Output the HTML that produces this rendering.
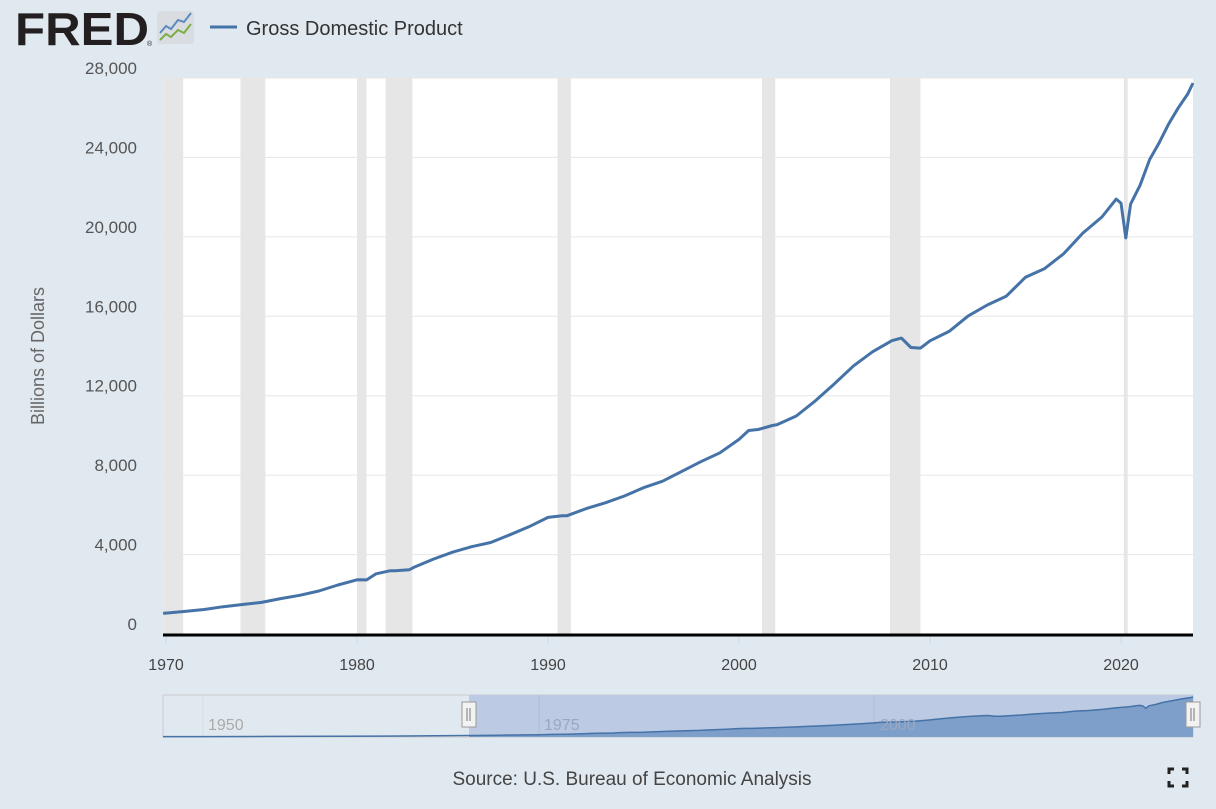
<!DOCTYPE html>
<html><head><meta charset="utf-8"><style>
html,body{margin:0;padding:0;background:#e1e9f0;}
body{width:1216px;height:809px;overflow:hidden;position:relative;font-family:"Liberation Sans",sans-serif;}
</style></head><body>
<svg id="s" width="1216" height="809" xmlns="http://www.w3.org/2000/svg" style="position:absolute;left:0;top:0">
<rect x="0" y="0" width="1216" height="809" fill="#e1e9f0"/>
<text x="15" y="45" font-size="46" font-weight="bold" fill="#231f20" font-family="Liberation Sans" textLength="134" lengthAdjust="spacingAndGlyphs">FRED</text>
<text x="147" y="46" font-size="7" fill="#231f20">®</text>
<rect x="157" y="11" width="37" height="33" rx="3" fill="#d9dde2"/>
<polyline points="160,33 166,26 171,29 178,20 184,22 191,13" fill="none" stroke="#5b8ac0" stroke-width="2"/>
<polyline points="160,40 166,34 171,37 178,30 184,33 191,24" fill="none" stroke="#7cae43" stroke-width="2"/>
<line x1="210" y1="27" x2="237" y2="27" stroke="#4572a7" stroke-width="3"/>
<text x="246" y="35" font-size="20" fill="#333">Gross Domestic Product</text>
<rect x="163" y="78" width="1030" height="556" fill="#fff"/>
<g id="rec" fill="#e6e6e6"></g>
<g id="grid" stroke="#e6e6e6" stroke-width="1"></g>
<g id="ylab" font-size="17" fill="#555" text-anchor="end"></g>
<text transform="translate(44,356) rotate(-90)" font-size="18" fill="#666" text-anchor="middle">Billions of Dollars</text>
<line x1="163" y1="635" x2="1193" y2="635" stroke="#000" stroke-width="3"/>
<g id="xlab" font-size="16" fill="#444" text-anchor="middle"></g>
<path id="main" fill="none" stroke="#4572a7" stroke-width="3" stroke-linejoin="round"/>
<rect x="163" y="695" width="1030" height="42" fill="none" stroke="#ccc" stroke-width="1"/>
<rect x="469" y="695" width="724" height="42" fill="#bccbe3"/>
<line x1="203" y1="695" x2="203" y2="737" stroke="#d6dce4"/>
<line x1="539" y1="695" x2="539" y2="737" stroke="#aebbd4"/>
<line x1="874" y1="695" x2="874" y2="737" stroke="#aebbd4"/>
<path id="navfill" fill="#7f9fcb"/>
<path id="navline" fill="none" stroke="#4572a7" stroke-width="1.5"/>
<text x="208" y="730" font-size="16" fill="#aaa">1950</text>
<text x="544" y="730" font-size="16" fill="#9aa8bf">1975</text>
<text x="880" y="730" font-size="16" fill="#9aa8bf">2000</text>
<rect x="462" y="702" width="14" height="25" fill="#f2f2f2" stroke="#999"/>
<line x1="467" y1="708" x2="467" y2="721" stroke="#777"/><line x1="470" y1="708" x2="470" y2="721" stroke="#777"/>
<rect x="1186" y="702" width="14" height="25" fill="#f2f2f2" stroke="#999"/>
<line x1="1191" y1="708" x2="1191" y2="721" stroke="#777"/><line x1="1194" y1="708" x2="1194" y2="721" stroke="#777"/>
<text x="632" y="785" font-size="19" fill="#444" text-anchor="middle">Source: U.S. Bureau of Economic Analysis</text>
<g stroke="#222" stroke-width="3" fill="none">
<polyline points="1169,774 1169,769 1174,769"/><polyline points="1182,769 1187,769 1187,774"/>
<polyline points="1169,781 1169,786 1174,786"/><polyline points="1182,786 1187,786 1187,781"/>
</g>
</svg>
<script>
var NS="http://www.w3.org/2000/svg";
function X(t){return 166+(t-1970)*19.1;}
function Y(v){return 634-v*556/28000;}
function el(p,tag,a,txt){var e=document.createElementNS(NS,tag);for(var k in a)e.setAttribute(k,a[k]);if(txt)e.textContent=txt;document.getElementById(p).appendChild(e);}
[[1969.85,1970.9],[1973.9,1975.2],[1980.0,1980.5],[1981.5,1982.9],[1990.5,1991.2],[2001.2,2001.9],[2007.9,2009.5],[2020.15,2020.35]].forEach(function(r){var a=Math.max(163,X(r[0]));el("rec","rect",{x:a,y:78,width:X(r[1])-a,height:556});});
for(var v=4000;v<=28000;v+=4000){var y=Y(v);el("grid","line",{x1:163,x2:1193,y1:y,y2:y});}
for(var v=0;v<=28000;v+=4000){el("ylab","text",{x:137,y:Y(v)-4},v.toLocaleString("en-US"));}
for(var t=1970;t<=2020;t+=10){el("xlab","text",{x:X(t),y:670},String(t));el("xlab","line",{x1:X(t),x2:X(t),y1:637,y2:644,stroke:"#ccd6eb"});}
var d=[[1969.85,1040],[1970,1052],[1971,1137],[1972,1233],[1973,1377],[1974,1486],[1975,1591],[1976,1782],[1977,1949],[1978,2164],[1979,2470],[1980,2727],[1980.5,2725],[1981,3034],[1981.75,3190],[1982,3183],[1982.75,3240],[1983,3367],[1984,3772],[1985,4119],[1986,4395],[1987,4607],[1988,4996],[1989,5399],[1990,5873],[1990.75,5960],[1991,5960],[1992,6317],[1993,6605],[1994,6952],[1995,7370],[1996,7695],[1997,8189],[1998,8679],[1999,9124],[2000,9799],[2000.5,10250],[2001,10301],[2001.75,10500],[2002,10546],[2003,10980],[2004,11742],[2005,12606],[2006,13505],[2007,14216],[2008,14770],[2008.5,14900],[2009,14430],[2009.5,14400],[2010,14765],[2011,15239],[2012,16020],[2013,16570],[2014,17015],[2015,17970],[2016,18400],[2017,19150],[2018,20190],[2019,21000],[2019.75,21900],[2020,21700],[2020.25,19950],[2020.5,21650],[2021,22600],[2021.5,23900],[2022,24740],[2022.5,25700],[2023,26500],[2023.5,27200],[2023.77,27750]];
document.getElementById("main").setAttribute("d","M"+d.map(function(p){return X(p[0]).toFixed(1)+","+Y(p[1]).toFixed(1);}).join("L"));
function NX(t){return 163+(t-1947)*1030/76.77;}function NY(v){return 737-v*40/27750;}
var nd=[[1947,243],[1950,280],[1955,400],[1960,540],[1965,700],[1969.8,1040]].concat(d.slice(1));
document.getElementById("navline").setAttribute("d","M"+nd.map(function(p){return NX(p[0]).toFixed(1)+","+NY(p[1]).toFixed(1);}).join("L"));
var sel=nd.filter(function(p){return p[0]>=1969.8;});
document.getElementById("navfill").setAttribute("d","M469,737L"+sel.map(function(p){return Math.max(469,NX(p[0])).toFixed(1)+","+NY(p[1]).toFixed(1);}).join("L")+"L1193,737Z");
</script>
</body></html>
